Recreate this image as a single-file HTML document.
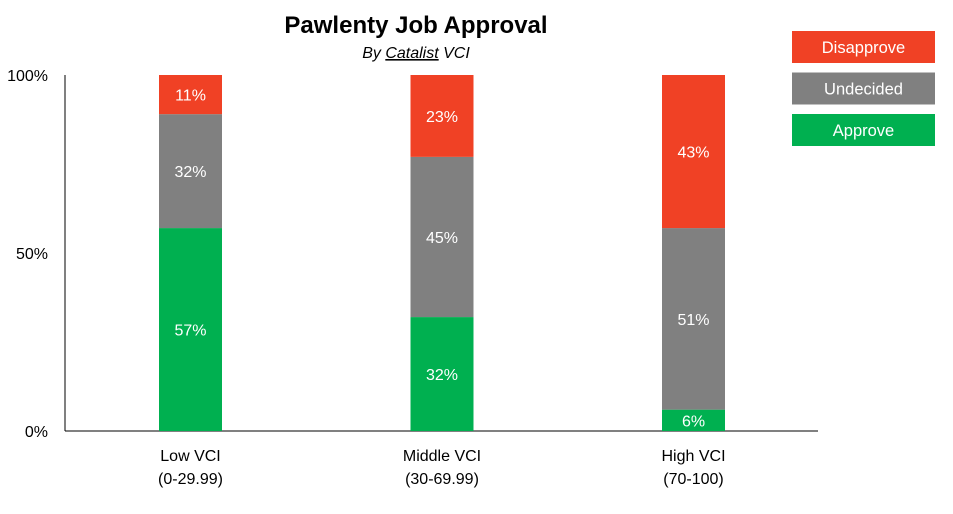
<!DOCTYPE html>
<html><head><meta charset="utf-8"><style>
body{margin:0;background:#fff;}
svg{display:block;font-family:"Liberation Sans",Calibri,sans-serif;}
</style></head><body>
<svg width="953" height="514" id="c">
<text x="416" y="33" text-anchor="middle" font-size="24" font-weight="bold" fill="#000">Pawlenty Job Approval</text>
<text x="416" y="58" text-anchor="middle" font-size="16" font-style="italic" fill="#000">By <tspan text-decoration="underline" text-decoration-color="#d00" text-decoration-style="wavy">Catalist</tspan> VCI</text>
<g id="ax"></g><g id="bars"></g><g id="legend"></g>
</svg>
<script>
const categories=["Low VCI","Middle VCI","High VCI"];
const subLabels=["(0-29.99)","(30-69.99)","(70-100)"];
const approve=[57,32,6];
const undecided=[32,45,51];
const disapprove=[11,23,43];
const yTicks=[0,50,100];
const seriesNames=["Disapprove","Undecided","Approve"];
const colors={Disapprove:"#F04125",Undecided:"#808080",Approve:"#00B050"};
const NS="http://www.w3.org/2000/svg";
const y0=431,y1=75,xL=65,xR=818;
const y=v=>y0-(v/100)*(y0-y1);
const bw=63,step=251.5,x0=159;
const xc=i=>x0+i*step;
function mk(t,a,p){const e=document.createElementNS(NS,t);for(const k in a)e.setAttribute(k,a[k]);p.appendChild(e);return e;}
const ax=document.getElementById('ax'),bars=document.getElementById('bars'),lg=document.getElementById('legend');
const yl=mk('line',{x1:xL,x2:xL,y1:y1,y2:y0,stroke:'#000','stroke-width':1},ax);


const xl=mk('line',{x1:xL,x2:xR,y1:y0,y2:y0,stroke:'#000','stroke-width':1},ax);


yTicks.forEach(t=>{const e=mk('text',{x:48,y:y(t)+6,'text-anchor':'end','font-size':16,fill:'#000'},ax);e.textContent=t+'%';

});
categories.forEach((c,i)=>{
 const cx=xc(i)+bw/2;
 const t=mk('text',{x:cx,y:461,'text-anchor':'middle','font-size':16,fill:'#000'},ax);t.textContent=c;
 
 
 const t2=mk('text',{x:cx,y:484,'text-anchor':'middle','font-size':16,fill:'#000'},ax);t2.textContent=subLabels[i];
 
 
 let base=0;
 [["Approve",approve[i]],["Undecided",undecided[i]],["Disapprove",disapprove[i]]].forEach(([n,v])=>{
  const r=mk('rect',{x:xc(i),y:y(base+v),width:bw,height:y(base)-y(base+v),fill:colors[n]},bars);
  
  
  const l=mk('text',{x:cx,y:(y(base)+y(base+v))/2+6,'text-anchor':'middle','font-size':16,fill:'#fff'},bars);l.textContent=v+'%';
  
  
  base+=v;});
});
seriesNames.forEach((n,i)=>{
 const ty=31+i*41.5;
 const r=mk('rect',{x:792,y:ty,width:143,height:32,fill:colors[n]},lg);
 
 
 const t=mk('text',{x:863.5,y:ty+22,'text-anchor':'middle','font-size':16.5,fill:'#fff'},lg);t.textContent=n;
 
 
});
</script>
</body></html>
